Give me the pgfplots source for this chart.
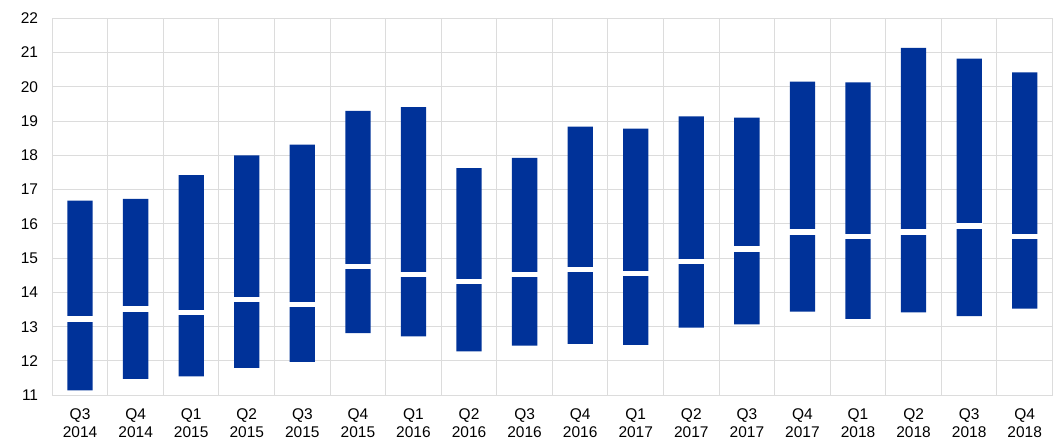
\documentclass[border=0pt]{standalone}
\usepackage{pgfplots}
\usepackage{pgfplotstable}
\pgfplotsset{compat=1.18}
\usepackage{fontspec}
\setmainfont{Liberation Sans}
\definecolor{ecbblue}{RGB}{0,50,153}
\definecolor{gridgrey}{RGB}{220,220,220}
\pgfplotstableread{
idx low range med
0 11.14 5.54 13.22
1 11.48 5.25 13.51
2 11.55 5.87 13.42
3 11.80 6.20 13.80
4 11.97 6.34 13.65
5 12.81 6.49 14.75
6 12.72 6.69 14.53
7 12.28 5.35 14.32
8 12.45 5.48 14.53
9 12.50 6.34 14.67
10 12.47 6.31 14.55
11 12.97 6.17 14.90
12 13.07 6.03 15.27
13 13.44 6.71 15.77
14 13.23 6.90 15.63
15 13.42 7.72 15.77
16 13.31 7.51 15.94
17 13.53 6.89 15.63
}\data
\begin{document}
\begin{tikzpicture}
\pgfplotsset{
  common/.style={
    scale only axis, width=1000.4pt, height=377pt,
    xmin=-0.5, xmax=17.5, ymin=11, ymax=22,
  }
}
\begin{axis}[
  name=ax, common,
  ybar stacked, bar width=25.3pt,
  font=\fontsize{15.5}{18}\selectfont,
  /pgf/number format/assume math mode=true,
  xtick={0,...,17},
  xticklabels={{Q3\\2014},{Q4\\2014},{Q1\\2015},{Q2\\2015},{Q3\\2015},{Q4\\2015},{Q1\\2016},{Q2\\2016},{Q3\\2016},{Q4\\2016},{Q1\\2017},{Q2\\2017},{Q3\\2017},{Q4\\2017},{Q1\\2018},{Q2\\2018},{Q3\\2018},{Q4\\2018}},
  xticklabel style={align=center, inner sep=0pt, yshift=-13pt},
  minor xtick={-0.5,0.5,...,17.5},
  xminorgrids, ymajorgrids,
  ytick={11,...,22},
  yticklabel style={inner sep=0pt, xshift=-14pt},
  major tick length=0pt, minor tick length=0pt,
  grid style={draw=gridgrey, line width=1pt},
  minor grid style={draw=gridgrey, line width=1pt},
  axis line style={draw=gridgrey, line width=1pt},
]
\addplot[draw=none, fill=none] table[x=idx, y=low] {\data};
\addplot[draw=none, fill=ecbblue] table[x=idx, y=range] {\data};
\end{axis}
\begin{axis}[common, hide axis]
\addplot[only marks, mark=-, mark size=13.5pt, mark options={draw=white, line width=5.5pt}] table[x=idx, y=med] {\data};
\end{axis}
\path ([shift={(-52.3pt,-45.7pt)}]ax.south west) rectangle ([shift={(0.3pt,18.3pt)}]ax.north east);
\end{tikzpicture}
\end{document}
